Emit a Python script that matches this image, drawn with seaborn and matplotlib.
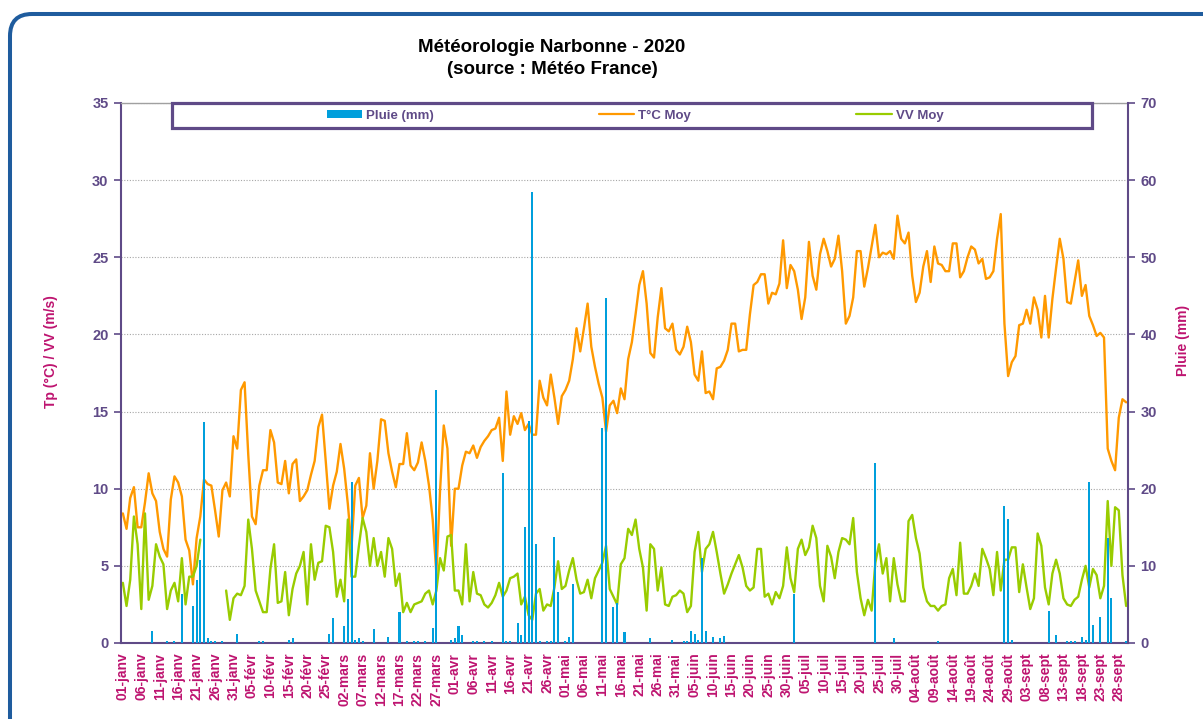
import numpy as np
import pandas as pd
import matplotlib
matplotlib.use("Agg")
import matplotlib.pyplot as plt
import matplotlib.transforms as mtransforms
import seaborn as sns
from matplotlib.patches import FancyBboxPatch, Rectangle, Patch
from matplotlib.lines import Line2D

# ---------------- data ----------------
month_abbr = ["janv", "févr", "mars", "avr", "mai", "juin", "juil", "août", "sept"]
# source sheet has no 29-févr (25-févr -> 02-mars), so a 365-day calendar is used
dates = pd.date_range("2019-01-01", "2019-09-30", freq="D")
day_labels = [f"{d.day:02d}-{month_abbr[d.month - 1]}" for d in dates]

temp = [
    8.4, 7.4, 9.4, 10.1, 7.5, 7.5, 9.1, 11.0, 9.7, 9.2,
    7.2, 6.1, 5.6, 9.3, 10.8, 10.4, 9.5, 6.7, 6.0, 3.8,
    6.8, 8.2, 10.6, 10.3, 10.2, 8.6, 6.9, 9.9, 10.4, 9.5,
    13.4, 12.6, 16.4, 16.9, 12.2, 8.2, 7.7, 10.2, 11.2, 11.2,
    13.8, 13.0, 10.4, 10.3, 11.8, 9.7, 11.6,
    11.9, 9.2, 9.5, 9.9, 10.9, 11.8, 14.0, 14.8, 11.8, 8.7,
    10.2, 11.1, 12.9, 11.3, 9.0, 6.2, 10.2, 10.7, 8.1, 8.9,
    12.3, 10.0, 11.8, 14.5, 14.4, 12.3, 11.1, 10.1, 11.6, 11.6,
    13.6, 11.5, 11.2, 11.7, 13.0, 11.8, 10.2, 8.0, 4.5, 9.9,
    14.1, 12.6, 6.3, 10.0, 10.0, 11.5,
    12.4, 12.3, 12.8, 12.0, 12.7, 13.1, 13.4, 13.8, 13.9, 14.6,
    11.8, 16.3, 13.5, 14.7, 14.2, 14.9, 13.8, 14.2, 13.5, 13.5,
    17.0, 15.9, 15.4, 17.4, 15.9, 14.2, 16.0, 16.4, 17.0, 18.4,
    20.4, 18.9, 20.4, 22.0, 19.2, 17.9, 16.8, 15.9, 13.7, 15.4,
    15.7, 14.9, 16.5, 15.8, 18.4, 19.5,
    21.3, 23.2, 24.1, 22.0, 18.8, 18.5, 21.1, 23.0, 20.4, 20.2,
    20.7, 19.0, 18.7, 19.2, 20.5, 19.5, 17.4, 17.0, 18.9, 16.2,
    16.3, 15.8, 17.8, 17.9, 18.3, 19.0, 20.7, 20.7, 18.9, 19.0,
    19.0, 21.3, 23.2, 23.4, 23.9, 23.9, 22.0, 22.7, 22.6, 23.3,
    26.1, 23.0, 24.5, 24.1, 22.9, 21.0,
    22.4, 26.0, 23.8, 22.9, 25.2, 26.2, 25.4, 24.4, 24.9, 26.4,
    24.1, 20.7, 21.2, 22.4, 25.4, 25.4, 23.1, 24.3, 25.7, 27.1,
    25.0, 25.3, 25.2, 25.4, 24.9, 27.7, 26.2, 25.9, 26.6, 23.8,
    22.1, 22.7, 24.4, 25.4, 23.4, 25.7, 24.6, 24.5, 24.1, 24.1,
    25.9, 25.9, 23.7,
    24.1, 25.0, 25.7, 25.5, 24.6, 24.9, 23.6, 23.7, 24.1, 26.2,
    27.8, 20.7, 17.3, 18.2, 18.6, 20.6, 20.7, 21.6, 20.7, 22.4,
    21.6, 19.8, 22.5, 19.8, 22.3, 24.3, 26.2, 24.9, 22.1, 22.0,
    23.4, 24.8, 22.5, 23.2, 21.2, 20.6, 19.9, 20.1, 19.8, 12.6,
    11.8, 11.2, 14.6, 15.8, 15.6,
]

nan = np.nan
wind = [
    3.9, 2.4, 4.1, 8.2, 6.4, 2.2, 8.4, 2.8, 3.7, 6.4,
    5.6, 5.1, 2.2, 3.4, 3.9, 2.7, 5.5, 2.5, 4.3, 4.3,
    5.0, 6.7, nan, nan, nan, nan, nan, nan,
    3.4, 1.5, 2.9, 3.2, 3.1, 3.7, 8.0, 6.1, 3.4, 2.7,
    2.0, 2.0, 4.8, 6.4, 2.6, 2.7, 4.6, 1.8, 3.5,
    4.5, 5.0, 5.9, 2.5, 6.4, 4.1, 5.2, 5.3, 7.6, 7.5,
    5.9, 3.0, 4.1, 2.7, 8.0, 4.3, 4.3, 6.3, 8.1, 7.2,
    5.0, 6.8, 5.0, 5.9, 4.3, 6.8, 6.1, 3.7, 4.5, 2.0,
    2.6, 2.0, 2.5, 2.6, 2.7, 3.2, 3.4, 2.5, 3.4, 5.5,
    4.7, 6.9, 7.0, 3.4, 3.4, 2.5,
    6.4, 2.7, 4.6, 3.2, 3.1, 2.5, 2.3, 2.6, 3.1, 3.9,
    3.0, 3.4, 4.2, 4.3, 4.5, 2.5, 3.0, 1.8, 1.5, 3.2,
    3.5, 2.1, 2.5, 2.4, 3.6, 5.3, 3.5, 3.7, 4.7, 5.5,
    4.1, 3.2, 3.3, 4.1, 2.9, 4.2, 4.7, 5.2, 6.3, 3.5,
    3.0, 2.5, 5.1, 5.5, 7.4, 7.0,
    8.0, 6.1, 4.9, 2.1, 6.4, 6.1, 3.4, 4.9, 2.5, 2.4,
    3.0, 3.1, 3.4, 3.2, 2.0, 2.4, 5.9, 7.2, 4.6, 6.1,
    6.4, 7.2, 5.9, 4.5, 3.2, 3.8, 4.5, 5.1, 5.7, 4.9,
    3.7, 3.4, 3.6, 6.1, 6.1, 3.0, 3.2, 2.5, 3.3, 2.9,
    3.7, 6.2, 4.2, 3.3, 6.1, 6.7,
    5.7, 6.2, 7.6, 6.8, 3.7, 2.7, 6.3, 5.6, 4.2, 5.9,
    6.8, 6.7, 6.4, 8.1, 4.6, 2.9, 1.8, 2.8, 2.1, 5.2,
    6.4, 4.5, 5.5, 2.7, 5.5, 3.8, 2.7, 2.7, 7.9, 8.3,
    6.8, 5.8, 3.6, 2.7, 2.4, 2.4, 2.1, 2.4, 2.5, 4.2,
    4.8, 3.1, 6.5,
    3.2, 3.2, 3.7, 4.5, 3.7, 6.1, 5.5, 4.8, 3.1, 5.9,
    3.4, 5.4, 5.4, 6.2, 6.2, 3.3, 5.1, 3.6, 2.2, 2.9,
    7.1, 6.3, 3.6, 2.5, 4.5, 5.4, 4.5, 2.9, 2.5, 2.4,
    2.8, 3.0, 4.1, 5.0, 3.6, 4.8, 4.4, 2.9, 3.7, 9.2,
    5.0, 8.8, 8.6, 4.4, 2.4,
]

# rain: day index (0 = 01-janv) and amount in mm; other days are dry
rain_days = [8, 12, 14, 16, 19, 20, 21, 22, 23, 24, 25, 27, 31, 37, 38, 45, 46,
             56, 57, 60, 61, 62, 63, 64, 65, 68, 72, 75, 77, 79, 80, 82, 84, 85,
             89, 90, 91, 92, 95, 96, 98, 100, 103, 104, 105, 107, 108, 109, 110,
             111, 112, 113, 115, 116, 117, 118, 120, 121, 122, 130, 131, 133, 134,
             136, 143, 149, 152, 153, 154, 155, 156, 157, 158, 160, 162, 163, 182,
             204, 209, 221, 239, 240, 241, 251, 253, 256, 257, 258, 260, 261, 262,
             263, 265, 267, 268, 272]
rain_mm = [1.6, 0.2, 0.2, 6.4, 4.8, 8.2, 10.8, 28.7, 0.6, 0.2, 0.2, 0.2, 1.2, 0.2, 0.2, 0.4, 0.6,
           1.2, 3.2, 2.2, 5.7, 20.9, 0.4, 0.6, 0.2, 1.8, 0.8, 4.0, 0.2, 0.2, 0.2, 0.2, 2.0, 32.8,
           0.4, 0.6, 2.2, 1.0, 0.2, 0.2, 0.2, 0.2, 22.0, 0.2, 0.2, 2.6, 1.0, 15.1, 28.8,
           58.4, 12.8, 0.2, 0.2, 0.2, 13.7, 6.6, 0.2, 0.8, 7.6, 27.9, 44.7, 4.7, 5.2,
           1.4, 0.6, 0.4, 0.2, 0.2, 1.6, 1.2, 0.4, 11.0, 1.6, 0.8, 0.6, 0.9, 6.4,
           23.3, 0.6, 0.2, 17.8, 16.1, 0.4, 4.1, 1.1, 0.2, 0.2, 0.2, 0.8, 0.4, 20.9,
           2.3, 3.4, 13.6, 5.8, 0.2]

# ---------------- styling ----------------
PURPLE = "#5F4A87"
MAGENTA = "#BE1470"
ORANGE = "#FF9900"
GREEN = "#99CC00"
BLUE = "#009FDC"
FRAME = "#1F5C9E"

sns.set_style("white")
plt.rcParams["font.family"] = ["Liberation Sans", "DejaVu Sans"]
plt.rcParams["font.weight"] = "bold"

n = len(temp)
x = np.arange(n)
wind_arr = np.array(wind, dtype=float)
rain = np.zeros(n)
rain[rain_days] = rain_mm
df = pd.DataFrame({
    "x": x,
    "temp": temp,
    "wind": wind_arr,
    "rain": rain,
    "seg": np.cumsum(np.isnan(wind_arr)),
})

W, H = 1203, 719
fig = plt.figure(figsize=(W / 100, H / 100), dpi=100)
ax = fig.add_axes([121 / W, 1 - 643 / H, 1007 / W, 540 / H])

sns.lineplot(data=df, x="x", y="temp", ax=ax, color=ORANGE, lw=1.7, legend=False)
sns.lineplot(data=df, x="x", y="wind", units="seg", estimator=None, ax=ax,
             color=GREEN, lw=1.7, legend=False)

ax2 = ax.twinx()
sns.barplot(data=df, x="x", y="rain", native_scale=True, ax=ax2, color=BLUE,
            saturation=1, width=0.55, errorbar=None, linewidth=0)

ax.set_xlim(-0.5, n - 0.5)
ax.set_ylim(0, 35)
ax2.set_ylim(0, 70)
ax.set_yticks(range(0, 36, 5))
ax2.set_yticks(range(0, 71, 10))
ax.set_xticks(np.arange(0, n, 5))
ax.set_xticklabels(day_labels[::5])
ax.set_xticks(x, minor=True)

ax.yaxis.grid(True, color="#A6A6A6", ls=(0, (1, 1.5)), lw=0.8)
ax.xaxis.grid(False)

ax.tick_params(axis="y", colors=PURPLE, labelsize=10.5, length=5, width=1.2, pad=4)
ax2.tick_params(axis="y", colors=PURPLE, labelsize=10.5, length=5, width=1.2, pad=4)
ax.tick_params(axis="x", which="major", color=PURPLE, labelcolor=MAGENTA, labelsize=10,
               rotation=90, length=4, width=0.8, pad=3)
ax.tick_params(axis="x", which="minor", color=PURPLE, length=4, width=0.8)

ax.set_xlabel("")
ax2.set_xlabel("")
ax.set_ylabel("Tp (°C) / VV (m/s)", color=MAGENTA, fontsize=10, fontweight="bold")
ax2.set_ylabel("Pluie (mm)", color=MAGENTA, fontsize=10, fontweight="bold")
ax.yaxis.set_label_coords(-0.063, 0.54)
ax2.yaxis.set_label_coords(1.048, 0.56)

for s in ("left", "bottom"):
    ax.spines[s].set_color(PURPLE)
    ax.spines[s].set_linewidth(1.5)
ax.spines["top"].set_color("#A0A0A0")
ax.spines["top"].set_linewidth(1.0)
ax.spines["right"].set_visible(False)
for s in ("left", "bottom", "top"):
    ax2.spines[s].set_visible(False)
ax2.spines["right"].set_color(PURPLE)
ax2.spines["right"].set_linewidth(1.5)

# title
fig.text(552 / W, 1 - 47 / H, "Météorologie Narbonne - 2020", ha="center", va="center",
         fontsize=13.5, fontweight="bold", color="black")
fig.text(552 / W, 1 - 69 / H, "(source : Météo France)", ha="center", va="center",
         fontsize=13.5, fontweight="bold", color="black")

# legend box
fig.add_artist(Rectangle((172 / W, 1 - 128 / H), 920 / W, 25 / H, transform=fig.transFigure,
                         facecolor="white", edgecolor=PURPLE, lw=2.3, zorder=5))
handles = [Patch(facecolor=BLUE, edgecolor="none"),
           Line2D([], [], color=ORANGE, lw=1.6),
           Line2D([], [], color=GREEN, lw=1.6)]
leg = fig.legend(handles, ["Pluie (mm)", "T°C Moy", "VV Moy"], loc="center",
                 bbox_to_anchor=(635 / W, 1 - 115.5 / H), ncol=3, frameon=False,
                 prop={"weight": "bold", "size": 9.5}, labelcolor=PURPLE,
                 handlelength=2.7, handleheight=0.55, handletextpad=0.3, columnspacing=12.5)
leg.set_zorder(6)

# outer rounded frame
fig.add_artist(FancyBboxPatch((10, -60), 1260, 765, boxstyle="round,pad=0,rounding_size=22",
                              transform=mtransforms.IdentityTransform(), fill=False,
                              edgecolor=FRAME, lw=2.9, zorder=7))

fig.savefig("out.png", dpi=100)
